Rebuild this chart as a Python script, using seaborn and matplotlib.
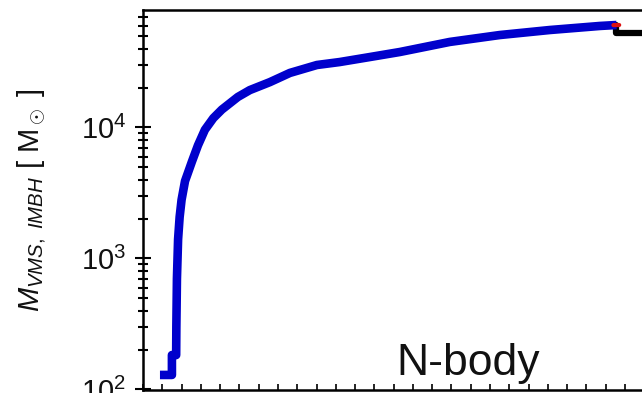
import numpy as np
import pandas as pd
import matplotlib
matplotlib.use("Agg")
import matplotlib.pyplot as plt
import seaborn as sns
from matplotlib.ticker import LogLocator, MultipleLocator, NullFormatter

sns.set_style("ticks")
plt.rcParams['font.family'] = ['Liberation Sans', 'DejaVu Sans']
plt.rcParams['mathtext.fontset'] = 'custom'
plt.rcParams['mathtext.rm'] = 'Liberation Sans'
plt.rcParams['mathtext.it'] = 'Liberation Sans:italic'
plt.rcParams['mathtext.sf'] = 'Liberation Sans'
plt.rcParams['text.color'] = '#111111'
plt.rcParams['axes.labelcolor'] = '#111111'
plt.rcParams['ytick.color'] = 'black'
plt.rcParams['xtick.color'] = 'black'
plt.rcParams['ytick.labelcolor'] = '#111111'

# Growth of the VMS/IMBH (blue), red junction, black continuation
t_vms = [0.088, 0.150, 0.150, 0.172, 0.173, 0.176, 0.182, 0.190, 0.200, 0.218,
         0.254, 0.285, 0.321, 0.365, 0.409, 0.492, 0.554, 0.658, 0.762, 0.902,
         1.02, 1.176, 1.332, 1.591, 1.85, 2.11, 2.37, 2.456]
m_vms = [129, 129, 183, 183, 300, 700, 1400, 2070, 2800, 3900,
         5500, 7300, 9600, 11800, 13700, 17100, 19300, 22200, 26100, 30000,
         31600, 34500, 37700, 45000, 50800, 55500, 59600, 60600]
t_imbh = [2.456, 2.456, 3.4]
m_imbh = [60600, 52600, 52600]
t_red = [2.44, 2.47]
m_red = [60500, 60600]

df_vms = pd.DataFrame({"t": t_vms, "m": m_vms})
df_imbh = pd.DataFrame({"t": t_imbh, "m": m_imbh})
df_red = pd.DataFrame({"t": t_red, "m": m_red})

fig = plt.figure(figsize=(6.42, 3.93), dpi=100)
ax = fig.add_axes([143/642, 3/393, 1.0, 380/393])

sns.lineplot(data=df_imbh, x="t", y="m", ax=ax, color="black", lw=4.5,
             estimator=None, sort=False)
sns.lineplot(data=df_vms, x="t", y="m", ax=ax, color="#0000cc", lw=6.2,
             estimator=None, sort=False, solid_capstyle='butt',
             solid_joinstyle='round')
sns.lineplot(data=df_red, x="t", y="m", ax=ax, color="#dd1111", lw=3,
             estimator=None, sort=False)

ax.set_yscale("log")
ax.set_ylim(99, 78900)
ax.set_xlim(0, 3.33)
ax.set_xlabel("")
ax.set_ylabel(r"$M_{VMS,\ IMBH}$ [ M$_\odot$ ]", fontsize=21, labelpad=24)
ax.yaxis.set_major_locator(LogLocator(base=10, numticks=10))
ax.yaxis.set_minor_locator(LogLocator(base=10, subs=np.arange(2, 10), numticks=10))
ax.yaxis.set_minor_formatter(NullFormatter())
ax.xaxis.set_minor_locator(MultipleLocator(0.1))
ax.xaxis.set_major_locator(MultipleLocator(0.5))
ax.tick_params(axis='x', which='both', direction='in', length=4, width=1.2,
               labelbottom=False)
ax.tick_params(axis='y', which='major', direction='inout', length=12, width=1.5,
               labelsize=21, pad=6)
ax.tick_params(axis='y', which='minor', direction='inout', length=7, width=1.5)
for s in ax.spines.values():
    s.set_linewidth(1.8)
    s.set_color('black')

fig.text(468/642, 18/393, "N-body", fontsize=32, ha='center', va='baseline')

fig.savefig("out.png", dpi=100)
